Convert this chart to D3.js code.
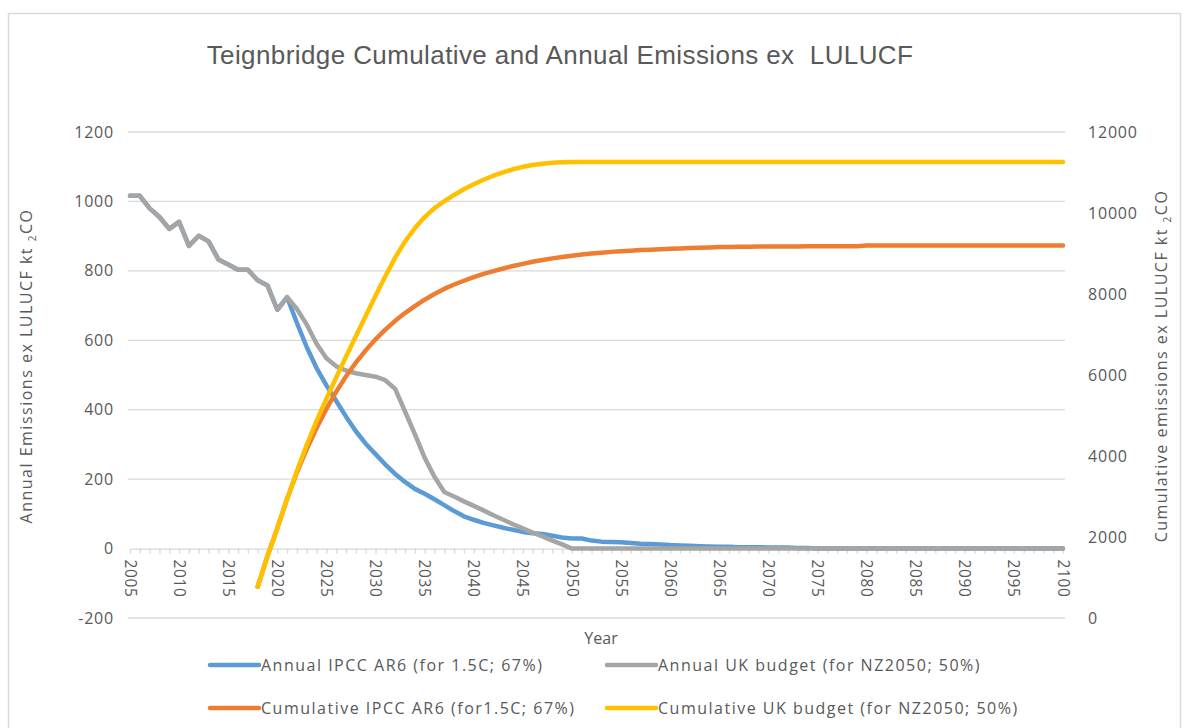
<!DOCTYPE html>
<html>
<head>
<meta charset="utf-8">
<script src="https://d3js.org/d3.v7.min.js"></script>
<style>
body { margin: 0; background: #fff; }
text { font-family: "Open Sans", sans-serif; fill: #595959; }
</style>
</head>
<body>
<div id="content"></div>
<script>
// values
const years = d3.range(2005, 2101);
const yearLabels = d3.range(2005, 2101, 5);
const leftTicks = [-200, 0, 200, 400, 600, 800, 1000, 1200];
const rightTicks = [0, 2000, 4000, 6000, 8000, 10000, 12000];

// annual, kt CO2 (left axis)
const annualIpcc = [1016, 1016, 980, 955, 921, 941, 872, 901, 885, 833, 818, 803, 803, 773, 758, 688, 724,
  650, 580, 520, 470, 425, 380, 338, 302, 272,
  242, 215, 192, 172, 158, 142, 125, 108, 93, 83,
  74, 67, 60, 54, 48, 44, 42, 37, 32, 29,
  29, 23, 20, 19, 18, 16, 14, 13, 12, 10,
  9, 8, 7, 6, 5, 5, 4, 4, 4, 3,
  3, 3, 2, 2, 0, 0, 0, 0, 0, 0,
  0, 0, 0, 0, 0, 0, 0, 0, 0, 0,
  0, 0, 0, 0, 0, 0, 0, 0, 0, 0];
const annualUk = [1016, 1016, 980, 955, 921, 941, 872, 901, 885, 833, 818, 803, 803, 773, 758, 688, 724,
  690, 645, 590, 548, 525, 513, 505, 500, 495,
  485, 460, 395, 330, 262, 207, 163, 150, 136, 123,
  110, 96, 83, 70, 58, 46, 35, 23, 12, 0,
  0, 0, 0, 0, 0, 0, 0, 0, 0, 0,
  0, 0, 0, 0, 0, 0, 0, 0, 0, 0,
  0, 0, 0, 0, 0, 0, 0, 0, 0, 0,
  0, 0, 0, 0, 0, 0, 0, 0, 0, 0,
  0, 0, 0, 0, 0, 0, 0, 0, 0, 0];

// cumulative from 2018 (right axis)
const cumYears = d3.range(2018, 2101);
const cumIpcc = [773, 1531, 2219, 2943,
  3593, 4173, 4693, 5163, 5588, 5968, 6306, 6608, 6880,
  7122, 7337, 7529, 7701, 7859, 8001, 8126, 8234, 8327, 8415,
  8495, 8565, 8630, 8690, 8745, 8795, 8840, 8880, 8915, 8945,
  8975, 9000, 9020, 9040, 9055, 9070, 9085, 9095, 9105, 9115,
  9125, 9135, 9140, 9150, 9160, 9160, 9165, 9165, 9170, 9170,
  9175, 9175, 9175, 9180, 9180, 9180, 9180, 9180, 9180, 9195,
  9195, 9195, 9195, 9195, 9195, 9195, 9195, 9195, 9195, 9195,
  9195, 9195, 9195, 9195, 9195, 9195, 9195, 9195, 9195, 9195];
const cumUk = [773, 1531, 2219, 2943,
  3633, 4278, 4868, 5416, 5941, 6454, 6959, 7459, 7954,
  8439, 8899, 9294, 9624, 9900, 10120, 10290, 10445, 10585, 10710,
  10820, 10920, 11005, 11080, 11140, 11185, 11215, 11240, 11255, 11260,
  11260, 11260, 11260, 11260, 11260, 11260, 11260, 11260, 11260, 11260,
  11260, 11260, 11260, 11260, 11260, 11260, 11260, 11260, 11260, 11260,
  11260, 11260, 11260, 11260, 11260, 11260, 11260, 11260, 11260, 11260,
  11260, 11260, 11260, 11260, 11260, 11260, 11260, 11260, 11260, 11260,
  11260, 11260, 11260, 11260, 11260, 11260, 11260, 11260, 11260, 11260];

const series = [
  { name: "Annual IPCC AR6 (for 1.5C; 67%)", x: years, v: annualIpcc, axis: "L", color: "#5b9bd5" },
  { name: "Annual UK budget (for NZ2050; 50%)", x: years, v: annualUk, axis: "L", color: "#a5a5a5" },
  { name: "Cumulative IPCC AR6 (for1.5C; 67%)", x: cumYears, v: cumIpcc, axis: "R", color: "#ed7d31" },
  { name: "Cumulative UK budget (for NZ2050; 50%)", x: cumYears, v: cumUk, axis: "R", color: "#ffc000" }
];

const width = 1188,
      height = 728;

let svg = d3.select("#content").append("svg")
    .attr("width", width)
    .attr("height", height);

// chart frame
svg.append("rect")
  .attr("x", 8.5).attr("y", 13.5)
  .attr("width", 1172).attr("height", 730)
  .attr("fill", "none")
  .attr("stroke", "#d9d9d9")
  .attr("stroke-width", 1.5);

let x = d3.scaleLinear().domain([2005, 2100]).range([130, 1063]),
    yL = d3.scaleLinear().domain([-200, 1200]).range([618, 132]),
    yR = d3.scaleLinear().domain([0, 12000]).range([618, 132]);

// gridlines
svg.append("g")
  .selectAll("line")
  .data(leftTicks.filter(d => d !== 0))
  .enter()
  .append("line")
  .attr("x1", 128).attr("x2", 1065)
  .attr("y1", d => yL(d)).attr("y2", d => yL(d))
  .attr("stroke", "#d9d9d9")
  .attr("stroke-width", 1.3);

// category axis at zero, a tick for every year
let xAxis = svg.append("g")
  .attr("transform", `translate(0,${yL(0)})`)
  .call(d3.axisBottom(x).tickValues(years).tickSize(5).tickSizeOuter(0).tickFormat(""));
xAxis.select(".domain").attr("stroke", "#d9d9d9").attr("stroke-width", 1.3);
xAxis.selectAll(".tick line").attr("stroke", "#d9d9d9").attr("stroke-width", 1.3);

svg.append("g")
  .selectAll("text")
  .data(yearLabels)
  .enter()
  .append("text")
  .attr("transform", d => `translate(${x(d)},${yL(0) + 11}) rotate(90)`)
  .attr("dy", "0.35em")
  .style("font-size", "15.5px")
  .style("letter-spacing", "0.6px")
  .text(d => d);

// left and right value labels
let leftAxis = svg.append("g")
  .attr("transform", "translate(114,0)")
  .call(d3.axisLeft(yL).tickValues(leftTicks).tickSize(0).tickPadding(0).tickFormat(d => String(d)));
leftAxis.select(".domain").remove();

let rightAxis = svg.append("g")
  .attr("transform", "translate(1088,0)")
  .call(d3.axisRight(yR).tickValues(rightTicks).tickSize(0).tickPadding(0).tickFormat(d => String(d)));
rightAxis.select(".domain").remove();

svg.selectAll(".tick text")
  .style("font-family", '"Open Sans", sans-serif')
  .style("font-size", "16px")
  .style("letter-spacing", "0.8px")
  .attr("fill", "#595959");

// lines
series.forEach(function(s) {
  let y = s.axis === "L" ? yL : yR;
  let line = d3.line()
    .x((d, i) => x(s.x[i]))
    .y(d => y(d));
  svg.append("path")
    .datum(s.v)
    .attr("fill", "none")
    .attr("stroke", s.color)
    .attr("stroke-width", 4.5)
    .attr("stroke-linejoin", "round")
    .attr("stroke-linecap", "round")
    .attr("d", line);
});

// title
svg.append("text")
  .attr("x", 560).attr("y", 64)
  .attr("text-anchor", "middle")
  .style("font-family", '"Liberation Sans", Arial, sans-serif')
  .style("font-size", "26px")
  .style("letter-spacing", "0.4px")
  .style("white-space", "pre")
  .text("Teignbridge Cumulative and Annual Emissions ex  LULUCF");

// axis titles
function axisTitle(label, cx, cy) {
  let t = svg.append("text")
    .attr("transform", `translate(${cx},${cy}) rotate(-90)`)
    .attr("text-anchor", "middle")
    .attr("dy", "0.35em")
    .style("font-size", "16px")
    .style("letter-spacing", "1.5px");
  t.append("tspan").text(label + " kt ");
  t.append("tspan").attr("dy", 4).style("font-size", "10px").text("2");
  t.append("tspan").attr("dy", -4).text("CO");
}
axisTitle("Annual Emissions ex LULUCF", 26, 366);
axisTitle("Cumulative emissions ex LULUCF", 1161, 366);

svg.append("text")
  .attr("x", 601).attr("y", 644)
  .attr("text-anchor", "middle")
  .style("font-size", "16px")
  .text("Year");

// legend, two rows of two
let legend = svg.append("g")
  .selectAll("g")
  .data(series)
  .enter()
  .append("g")
  .attr("transform", (d, i) => `translate(${i % 2 === 0 ? 210 : 607},${i < 2 ? 665 : 708})`);
legend.append("line")
  .attr("x1", 0).attr("x2", 49)
  .attr("stroke", d => d.color)
  .attr("stroke-width", 4.5)
  .attr("stroke-linecap", "round");
legend.append("text")
  .attr("x", 51)
  .attr("dy", "0.35em")
  .style("font-size", "16px")
  .style("letter-spacing", "1.5px")
  .text(d => d.name);
</script>
</body>
</html>
